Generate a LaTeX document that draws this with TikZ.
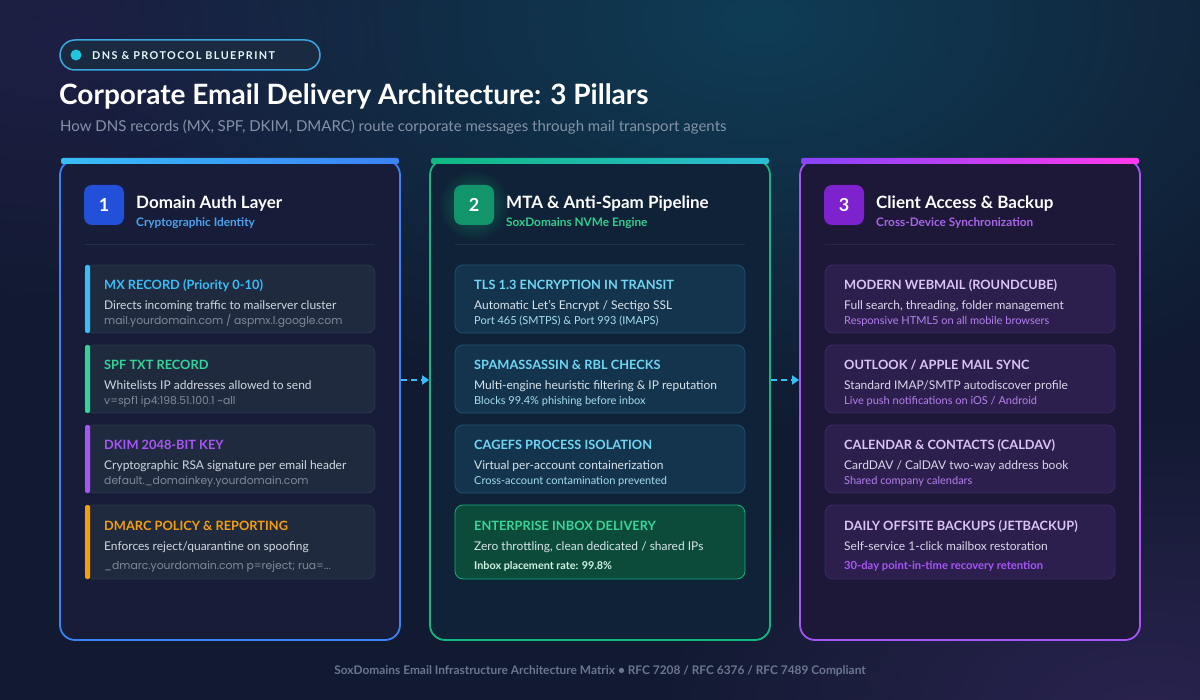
\documentclass[tikz,border=0pt]{standalone}
\usepackage{fontspec}
\setmainfont{Lato}
\newfontfamily\codefont{Poppins}
\newfontfamily\pillfont[LetterSpace=13]{Lato}
\usetikzlibrary{arrows.meta,fadings}

% 色の定義
\definecolor{bgbase}{HTML}{111A30}
\definecolor{bgteal}{HTML}{0F3D56}
\definecolor{bgpurple}{HTML}{2A2350}
\definecolor{bgtl}{HTML}{1D1F44}
\definecolor{pillfill}{HTML}{1A2A40}
\definecolor{pillline}{HTML}{3BA7E0}
\definecolor{pilldot}{HTML}{22C5E0}
\definecolor{subgray}{HTML}{8593A8}
\definecolor{footgray}{HTML}{6B778E}
\definecolor{lineA}{HTML}{3B82F6}
\definecolor{fillA}{HTML}{171C38}
\definecolor{lineB}{HTML}{10B981}
\definecolor{fillB}{HTML}{0F2237}
\definecolor{lineC}{HTML}{A855F7}
\definecolor{fillC}{HTML}{1D1838}
\definecolor{badgeA}{HTML}{2350D8}
\definecolor{badgeB}{HTML}{12956A}
\definecolor{badgeC}{HTML}{7E22CE}
\definecolor{subA}{HTML}{4AA3F0}
\definecolor{subB}{HTML}{2FCF8F}
\definecolor{subC}{HTML}{A865EA}
\definecolor{sepA}{HTML}{262D48}
\definecolor{sepB}{HTML}{1C3448}
\definecolor{sepC}{HTML}{2C2648}
\definecolor{cardA}{HTML}{1F2A3E}
\definecolor{cardAline}{HTML}{2A364C}
\definecolor{accmx}{HTML}{38BDF8}
\definecolor{accspf}{HTML}{34D399}
\definecolor{accdkim}{HTML}{A855F7}
\definecolor{accdmarc}{HTML}{F59E0B}
\definecolor{txtA}{HTML}{D2D8E2}
\definecolor{noteA}{HTML}{7F8A9C}
\definecolor{cardB}{HTML}{14344E}
\definecolor{cardBline}{HTML}{1E5272}
\definecolor{headB}{HTML}{6FD6F2}
\definecolor{txtB}{HTML}{D8E4EC}
\definecolor{noteB}{HTML}{A3DEF2}
\definecolor{cardG}{HTML}{0C4A3A}
\definecolor{cardGline}{HTML}{13B07E}
\definecolor{headG}{HTML}{3AD698}
\definecolor{noteG}{HTML}{D0F2E2}
\definecolor{cardC}{HTML}{2C1F4E}
\definecolor{cardCline}{HTML}{3B2A64}
\definecolor{headC}{HTML}{DAC4F6}
\definecolor{txtC}{HTML}{DCD6EA}
\definecolor{noteC}{HTML}{B580EE}
\definecolor{flowcol}{HTML}{38BDF8}

\tikzfading[name=glow, inner color=transparent!0, outer color=transparent!100]

\begin{document}
\begin{tikzpicture}[x=1pt, y=-1pt, every node/.style={inner sep=0pt},
  col/.style={draw, line width=1.8pt, rounded corners=15pt, minimum width=340pt, minimum height=480pt},
  badge/.style={rounded corners=8pt, minimum size=40pt, text=white, font=\bfseries\fontsize{18}{20}\selectfont},
  ptitle/.style={anchor=base west, text=white, font=\bfseries\fontsize{17}{20}\selectfont},
  psub/.style={anchor=base west, font=\bfseries\fontsize{11.8}{14}\selectfont},
  card/.style={rounded corners=8pt, line width=0.8pt, minimum width=290pt, minimum height=68pt},
  chead/.style={anchor=base west, font=\bfseries\fontsize{12.8}{15}\selectfont},
  cline/.style={anchor=base west, font=\fontsize{12}{14}\selectfont},
  cnote/.style={anchor=base west, font=\fontsize{11}{13}\selectfont},
  flow/.style={flowcol, line width=2pt, dash pattern=on 6pt off 4pt, -{Triangle[length=7pt,width=9pt]}}]

  % 背景
  \useasboundingbox (0,0) rectangle (1200,700);
  \fill[bgbase] (0,0) rectangle (1200,700);
  \fill[bgtl, path fading=glow] (60,40) ellipse (520 and 300);
  \fill[bgteal, path fading=glow] (760,20) ellipse (680 and 420);
  \fill[bgpurple, path fading=glow] (1150,720) ellipse (520 and 320);

  % ヘッダー
  \draw[pillline, fill=pillfill, line width=1.5pt, rounded corners=15pt] (60,40) rectangle (320,70);
  \fill[pilldot] (76,55) circle (5.5);
  \node[anchor=base west, text=white!90!cyan, font=\pillfont\bfseries\fontsize{10.8}{12}\selectfont] (tag) at (92,59.5) {DNS \& PROTOCOL BLUEPRINT};
  \node[anchor=base west, text=white, font=\bfseries\fontsize{28}{32}\selectfont] (title) at (59,105) {Corporate Email Delivery Architecture: 3 Pillars};
  \node[anchor=base west, text=subgray, font=\fontsize{15}{18}\selectfont] (subtitle) at (60,132) {How DNS records (MX, SPF, DKIM, DMARC) route corporate messages through mail transport agents};

  % 3本の柱
  \node[col, draw=lineA, fill=fillA] (dom) at (230,400) {};
  \node[col, draw=lineB, fill=fillB] (mta) at (600,400) {};
  \node[col, draw=lineC, fill=fillC] (cli) at (970,400) {};
  \shade[left color=accmx, right color=lineA, rounded corners=2pt] (61,158) rectangle (399,164);
  \shade[left color=lineB, right color=accmx!70!lineB, rounded corners=2pt] (431,158) rectangle (769,164);
  \shade[left color=lineC!80!blue, right color=magenta!70!pink, rounded corners=2pt] (801,158) rectangle (1139,164);

  % 柱の見出し
  \node[badge, fill=badgeA] (n1) at (104,205) {1};
  \node[ptitle] (t1) at (136,209) {Domain Auth Layer};
  \node[psub, text=subA] (s1) at (136,227) {Cryptographic Identity};
  \draw[sepA, line width=1pt] (85,245) -- (375,245);

  \fill[badgeB, path fading=glow, opacity=0.6] (474,205) circle (36);
  \node[badge, fill=badgeB] (n2) at (474,205) {2};
  \node[ptitle] (t2) at (506,209) {MTA \& Anti-Spam Pipeline};
  \node[psub, text=subB] (s2) at (506,227) {SoxDomains NVMe Engine};
  \draw[sepB, line width=1pt] (455,245) -- (745,245);

  \node[badge, fill=badgeC] (n3) at (844,205) {3};
  \node[ptitle] (t3) at (876,209) {Client Access \& Backup};
  \node[psub, text=subC] (s3) at (876,227) {Cross-Device Synchronization};
  \draw[sepC, line width=1pt] (825,245) -- (1115,245);

  % 柱1: DNSレコード
  \node[card, fill=cardA, draw=cardAline] (mx) at (230,299) {};
  \fill[accmx, rounded corners=2pt] (85,265) rectangle (90,333);
  \node[chead, text=accmx] (mxh) at (104,290) {MX RECORD (Priority 0-10)};
  \node[cline, text=txtA] (mxd) at (104,310) {Directs incoming traffic to mailserver cluster};
  \node[cnote, text=noteA, font=\codefont\fontsize{10.8}{13}\selectfont] (mxn) at (104,325) {mail.yourdomain.com / aspmx.l.google.com};

  \node[card, fill=cardA, draw=cardAline] (spf) at (230,379) {};
  \fill[accspf, rounded corners=2pt] (85,345) rectangle (90,413);
  \node[chead, text=accspf] (spfh) at (104,370) {SPF TXT RECORD};
  \node[cline, text=txtA] (spfd) at (104,390) {Whitelists IP addresses allowed to send};
  \node[cnote, text=noteA, font=\codefont\fontsize{10.8}{13}\selectfont] (spfn) at (104,405) {v=spf1 ip4:198.51.100.1 \textasciitilde all};

  \node[card, fill=cardA, draw=cardAline] (dkim) at (230,459) {};
  \fill[accdkim, rounded corners=2pt] (85,425) rectangle (90,493);
  \node[chead, text=accdkim] (dkimh) at (104,450) {DKIM 2048-BIT KEY};
  \node[cline, text=txtA] (dkimd) at (104,470) {Cryptographic RSA signature per email header};
  \node[cnote, text=noteA, font=\codefont\fontsize{10.8}{13}\selectfont] (dkimn) at (104,485) {default.\_domainkey.yourdomain.com};

  \node[card, fill=cardA, draw=cardAline, minimum height=74pt] (dmarc) at (230,542) {};
  \fill[accdmarc, rounded corners=2pt] (85,505) rectangle (90,579);
  \node[chead, text=accdmarc] (dmarch) at (104,530) {DMARC POLICY \& REPORTING};
  \node[cline, text=txtA] (dmarcd) at (104,550) {Enforces reject/quarantine on spoofing};
  \node[cnote, text=noteA, font=\codefont\fontsize{10.8}{13}\selectfont] (dmarcn) at (104,569) {\_dmarc.yourdomain.com p=reject; rua=...};

  % 柱2: MTA
  \node[card, fill=cardB, draw=cardBline] (tls) at (600,299) {};
  \node[chead, text=headB] (tlsh) at (474,290) {TLS 1.3 ENCRYPTION IN TRANSIT};
  \node[cline, text=txtB] (tlsd) at (474,310) {Automatic Let's Encrypt / Sectigo SSL};
  \node[cnote, text=noteB] (tlsn) at (474,325) {Port 465 (SMTPS) \& Port 993 (IMAPS)};

  \node[card, fill=cardB, draw=cardBline] (spam) at (600,379) {};
  \node[chead, text=headB] (spamh) at (474,370) {SPAMASSASSIN \& RBL CHECKS};
  \node[cline, text=txtB] (spamd) at (474,390) {Multi-engine heuristic filtering \& IP reputation};
  \node[cnote, text=noteB] (spamn) at (474,405) {Blocks 99.4\% phishing before inbox};

  \node[card, fill=cardB, draw=cardBline] (cage) at (600,459) {};
  \node[chead, text=headB] (cageh) at (474,450) {CAGEFS PROCESS ISOLATION};
  \node[cline, text=txtB] (caged) at (474,470) {Virtual per-account containerization};
  \node[cnote, text=noteB] (cagen) at (474,485) {Cross-account contamination prevented};

  \node[card, fill=cardG, draw=cardGline, minimum height=74pt] (inbox) at (600,542) {};
  \node[chead, text=headG] (inboxh) at (474,530) {ENTERPRISE INBOX DELIVERY};
  \node[cline, text=txtB] (inboxd) at (474,550) {Zero throttling, clean dedicated / shared IPs};
  \node[cnote, text=noteG, font=\bfseries\fontsize{10.8}{13}\selectfont] (inboxn) at (474,569) {Inbox placement rate: 99.8\%};

  % 柱3: クライアント
  \node[card, fill=cardC, draw=cardCline] (web) at (970,299) {};
  \node[chead, text=headC] (webh) at (844,290) {MODERN WEBMAIL (ROUNDCUBE)};
  \node[cline, text=txtC] (webd) at (844,310) {Full search, threading, folder management};
  \node[cnote, text=noteC] (webn) at (844,325) {Responsive HTML5 on all mobile browsers};

  \node[card, fill=cardC, draw=cardCline] (sync) at (970,379) {};
  \node[chead, text=headC] (synch) at (844,370) {OUTLOOK / APPLE MAIL SYNC};
  \node[cline, text=txtC] (syncd) at (844,390) {Standard IMAP/SMTP autodiscover profile};
  \node[cnote, text=noteC] (syncn) at (844,405) {Live push notifications on iOS / Android};

  \node[card, fill=cardC, draw=cardCline] (cal) at (970,459) {};
  \node[chead, text=headC] (calh) at (844,450) {CALENDAR \& CONTACTS (CALDAV)};
  \node[cline, text=txtC] (cald) at (844,470) {CardDAV / CalDAV two-way address book};
  \node[cnote, text=noteC] (caln) at (844,485) {Shared company calendars};

  \node[card, fill=cardC, draw=cardCline, minimum height=74pt] (bak) at (970,542) {};
  \node[chead, text=headC] (bakh) at (844,530) {DAILY OFFSITE BACKUPS (JETBACKUP)};
  \node[cline, text=txtC] (bakd) at (844,550) {Self-service 1-click mailbox restoration};
  \node[cnote, text=lineC, font=\bfseries\fontsize{11.2}{13}\selectfont] (bakn) at (844,569) {30-day point-in-time recovery retention};

  % 柱の間の矢印
  \draw[flow] ([yshift=20pt]dom.east) -- ([yshift=20pt]mta.west);
  \draw[flow] ([yshift=20pt]mta.east) -- ([yshift=20pt]cli.west);

  % フッター
  \node[text=footgray, font=\bfseries\fontsize{11.9}{14}\selectfont] (foot) at (600,671) {SoxDomains Email Infrastructure Architecture Matrix \textbullet{} RFC 7208 / RFC 6376 / RFC 7489 Compliant};

\end{tikzpicture}
\end{document}
